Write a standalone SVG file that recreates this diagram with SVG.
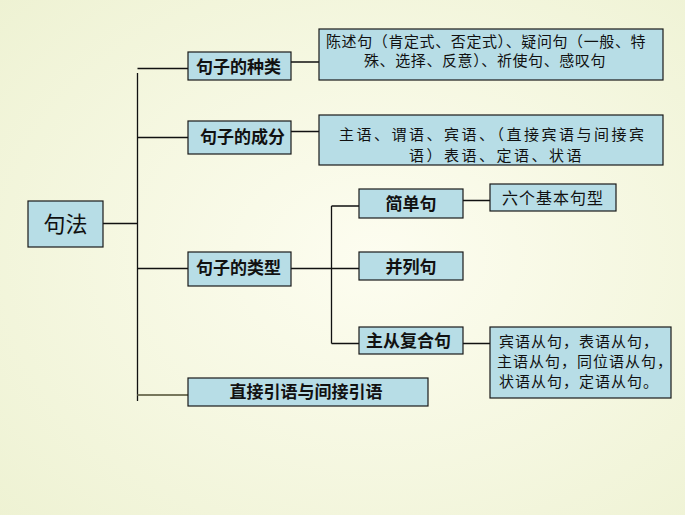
<svg xmlns="http://www.w3.org/2000/svg" width="685" height="515" viewBox="0 0 685 515">
<style>
.box{fill:#b7dde6;stroke:#1a1a1a;stroke-width:1.2}
.lbl{font-family:"Noto Sans CJK SC","Noto Sans CJK TC",sans-serif;font-weight:bold;font-size:17px;fill:#111}
.txt{font-family:"Noto Sans CJK SC","Noto Sans CJK TC",sans-serif;font-size:15px;fill:#111}
.ln{stroke:#111;stroke-width:1.3;fill:none}
</style>
<defs>
<radialGradient id="bg" cx="0.55" cy="0.5" r="0.75">
<stop offset="0" stop-color="#fdfdf0"/>
<stop offset="1" stop-color="#eef2d3"/>
</radialGradient>
</defs>
<rect x="0" y="0" width="685" height="515" fill="url(#bg)"/>
<g id="connectors">
<path class="ln" d="M102 223.5H137.5M137.5 73V401M137.5 68.5H188M137.5 137.5H188M137.5 268.5H188"/>
<path d="M137.5 395H188" stroke="#77775c" stroke-width="2.2" fill="none"/>
<path class="ln" d="M291 62H319M291 131.5H319M291 268.5H359M331.5 206V343.5M331.5 206H359M331.5 343.5H359M463 200.5H490M463 343.5H490"/>
</g>
<g id="n-jufa"><rect class="box" x="28" y="201" width="75" height="46"/><text x="65.5" y="232" text-anchor="middle" class="txt" style="font-size:22px">句法</text></g>
<g id="n-zhonglei"><rect class="box" x="188" y="52" width="103" height="28"/><text x="196" y="72.5" class="lbl">句子的种类</text></g>
<g id="n-zhonglei-d"><rect class="box" x="319" y="29" width="344" height="51"/><text class="txt" style="letter-spacing:0.6px"><tspan x="326" y="47">陈述句（肯定式、否定式）、疑问句（一般、特</tspan><tspan x="364" y="66">殊、选择、反意）、祈使句、感叹句</tspan></text></g>
<g id="n-chengfen"><rect class="box" x="188" y="121" width="103" height="33"/><text x="200" y="143" class="lbl">句子的成分</text></g>
<g id="n-chengfen-d"><rect class="box" x="319" y="115" width="344" height="50"/><text class="txt" style="letter-spacing:2.5px"><tspan x="339" y="140">主语、谓语、宾语、（直接宾语与间接宾</tspan><tspan x="409" y="161">语）表语、定语、状语</tspan></text></g>
<g id="n-leixing"><rect class="box" x="188" y="252" width="103" height="34"/><text x="196" y="274" class="lbl">句子的类型</text></g>
<g id="n-jiandan"><rect class="box" x="359" y="189" width="104" height="29"/><text x="411" y="210" text-anchor="middle" class="lbl">简单句</text></g>
<g id="n-liuge"><rect class="box" x="490" y="184" width="126" height="27"/><text x="502" y="204" class="txt" style="font-size:16px;letter-spacing:1px">六个基本句型</text></g>
<g id="n-binglie"><rect class="box" x="359" y="252" width="104" height="28"/><text x="411" y="273" text-anchor="middle" class="lbl">并列句</text></g>
<g id="n-zhucong"><rect class="box" x="359" y="327" width="104" height="27"/><text x="366" y="347" class="lbl">主从复合句</text></g>
<g id="n-zhucong-d"><rect class="box" x="490" y="327" width="181" height="71"/><text class="txt" style="letter-spacing:1px"><tspan x="499" y="347">宾语从句，表语从句，</tspan><tspan x="497" y="367">主语从句，同位语从句，</tspan><tspan x="499" y="387">状语从句，定语从句。</tspan></text></g>
<g id="n-yinyu"><rect class="box" x="188" y="378" width="240" height="28"/><text x="306" y="398" text-anchor="middle" class="lbl">直接引语与间接引语</text></g>
</svg>
